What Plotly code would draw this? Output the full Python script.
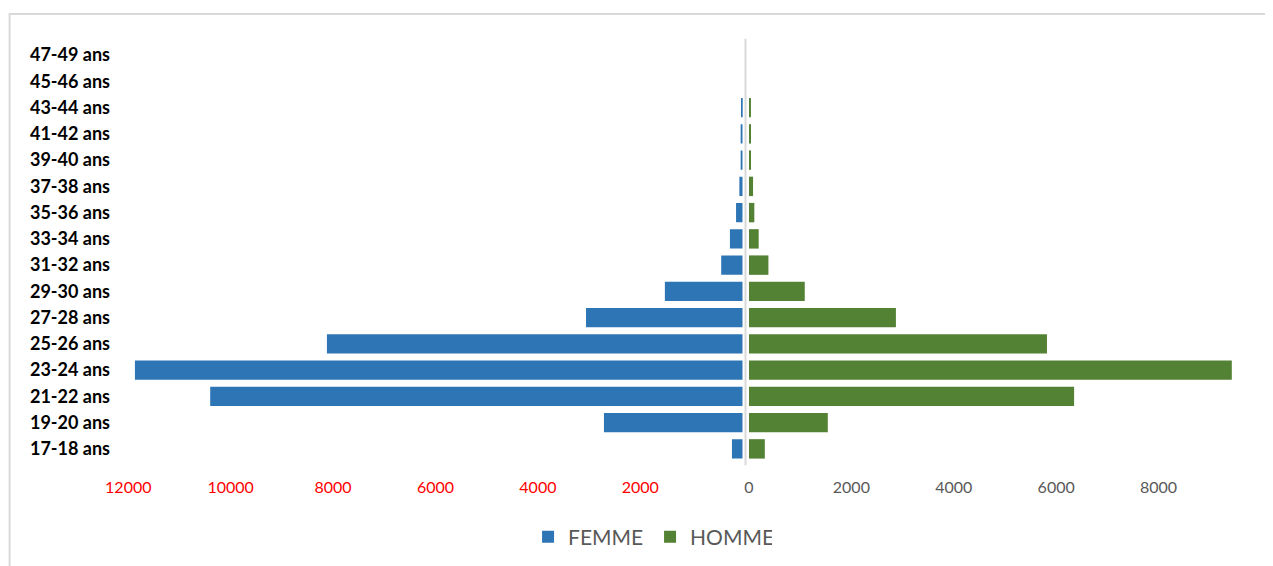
import plotly.graph_objects as go
from plotly.subplots import make_subplots

# age groups, bottom to top
ages = ["17-18 ans", "19-20 ans", "21-22 ans", "23-24 ans", "25-26 ans",
        "27-28 ans", "29-30 ans", "31-32 ans", "33-34 ans", "35-36 ans",
        "37-38 ans", "39-40 ans", "41-42 ans", "43-44 ans", "45-46 ans",
        "47-49 ans"]
femme = [210, 2710, 10400, 11870, 8120, 3060, 1520, 420, 250, 130,
         65, 40, 40, 30, 0, 0]
homme = [310, 1540, 6350, 9430, 5820, 2870, 1090, 380, 190, 105,
         80, 40, 40, 25, 0, 0]

left_ticks = [12000, 10000, 8000, 6000, 4000, 2000]
right_ticks = [0, 2000, 4000, 6000, 8000]

BLUE = "#2E75B6"
GREEN = "#548235"
FONT = "Lato"

fig = make_subplots(rows=1, cols=2, shared_yaxes=True, horizontal_spacing=0.0057)

fig.add_trace(go.Bar(y=ages, x=femme, orientation="h", name="FEMME",
                     marker=dict(color=BLUE, line=dict(width=0))), row=1, col=1)
fig.add_trace(go.Bar(y=ages, x=homme, orientation="h", name="HOMME",
                     marker=dict(color=GREEN, line=dict(width=0))), row=1, col=2)

fig.update_xaxes(row=1, col=1, range=[12064, 0], tickvals=left_ticks,
                 ticktext=[str(v) for v in left_ticks],
                 tickfont=dict(color="#FF0000", size=16, family=FONT),
                 showgrid=False, zeroline=False, showline=False,
                 ticklabelstandoff=14, domain=[0, 0.554])
fig.update_xaxes(row=1, col=2, range=[0, 9590], tickvals=right_ticks,
                 ticktext=[str(v) for v in right_ticks],
                 tickfont=dict(color="#595959", size=16, family=FONT),
                 showgrid=False, zeroline=False, showline=False,
                 ticklabelstandoff=14, domain=[0.5596, 1])
fig.update_yaxes(row=1, col=1, categoryorder="array", categoryarray=ages,
                 tickfont=dict(color="#000000", size=18, family=FONT, weight="bold"),
                 showgrid=False, zeroline=False, showline=False,
                 ticklabelstandoff=14)
fig.update_yaxes(row=1, col=2, showgrid=False, zeroline=False, showline=False,
                 showticklabels=False)

# central axis line and outer chart frame
fig.add_shape(type="line", xref="paper", yref="paper", x0=0.5565, x1=0.5565,
              y0=-0.008, y1=1.008, line=dict(color="#D9D9D9", width=2))
fig.add_shape(type="rect", xref="paper", yref="paper", x0=-0.1035, x1=1.03,
              y0=-0.3, y1=1.0667, line=dict(color="#D9D9D9", width=2),
              fillcolor="rgba(0,0,0,0)")

fig.update_layout(
    width=1273, height=566,
    margin=dict(l=117, r=41, t=34, b=112),
    barmode="overlay", bargap=0.26,
    plot_bgcolor="white", paper_bgcolor="white",
    font=dict(family=FONT),
    legend=dict(orientation="h", x=0.4709, xanchor="center", y=-0.179,
                yanchor="middle", font=dict(size=21, color="#595959"),
                itemwidth=30, entrywidth=77, entrywidthmode="pixels"),
)

fig.write_html("out.html")
